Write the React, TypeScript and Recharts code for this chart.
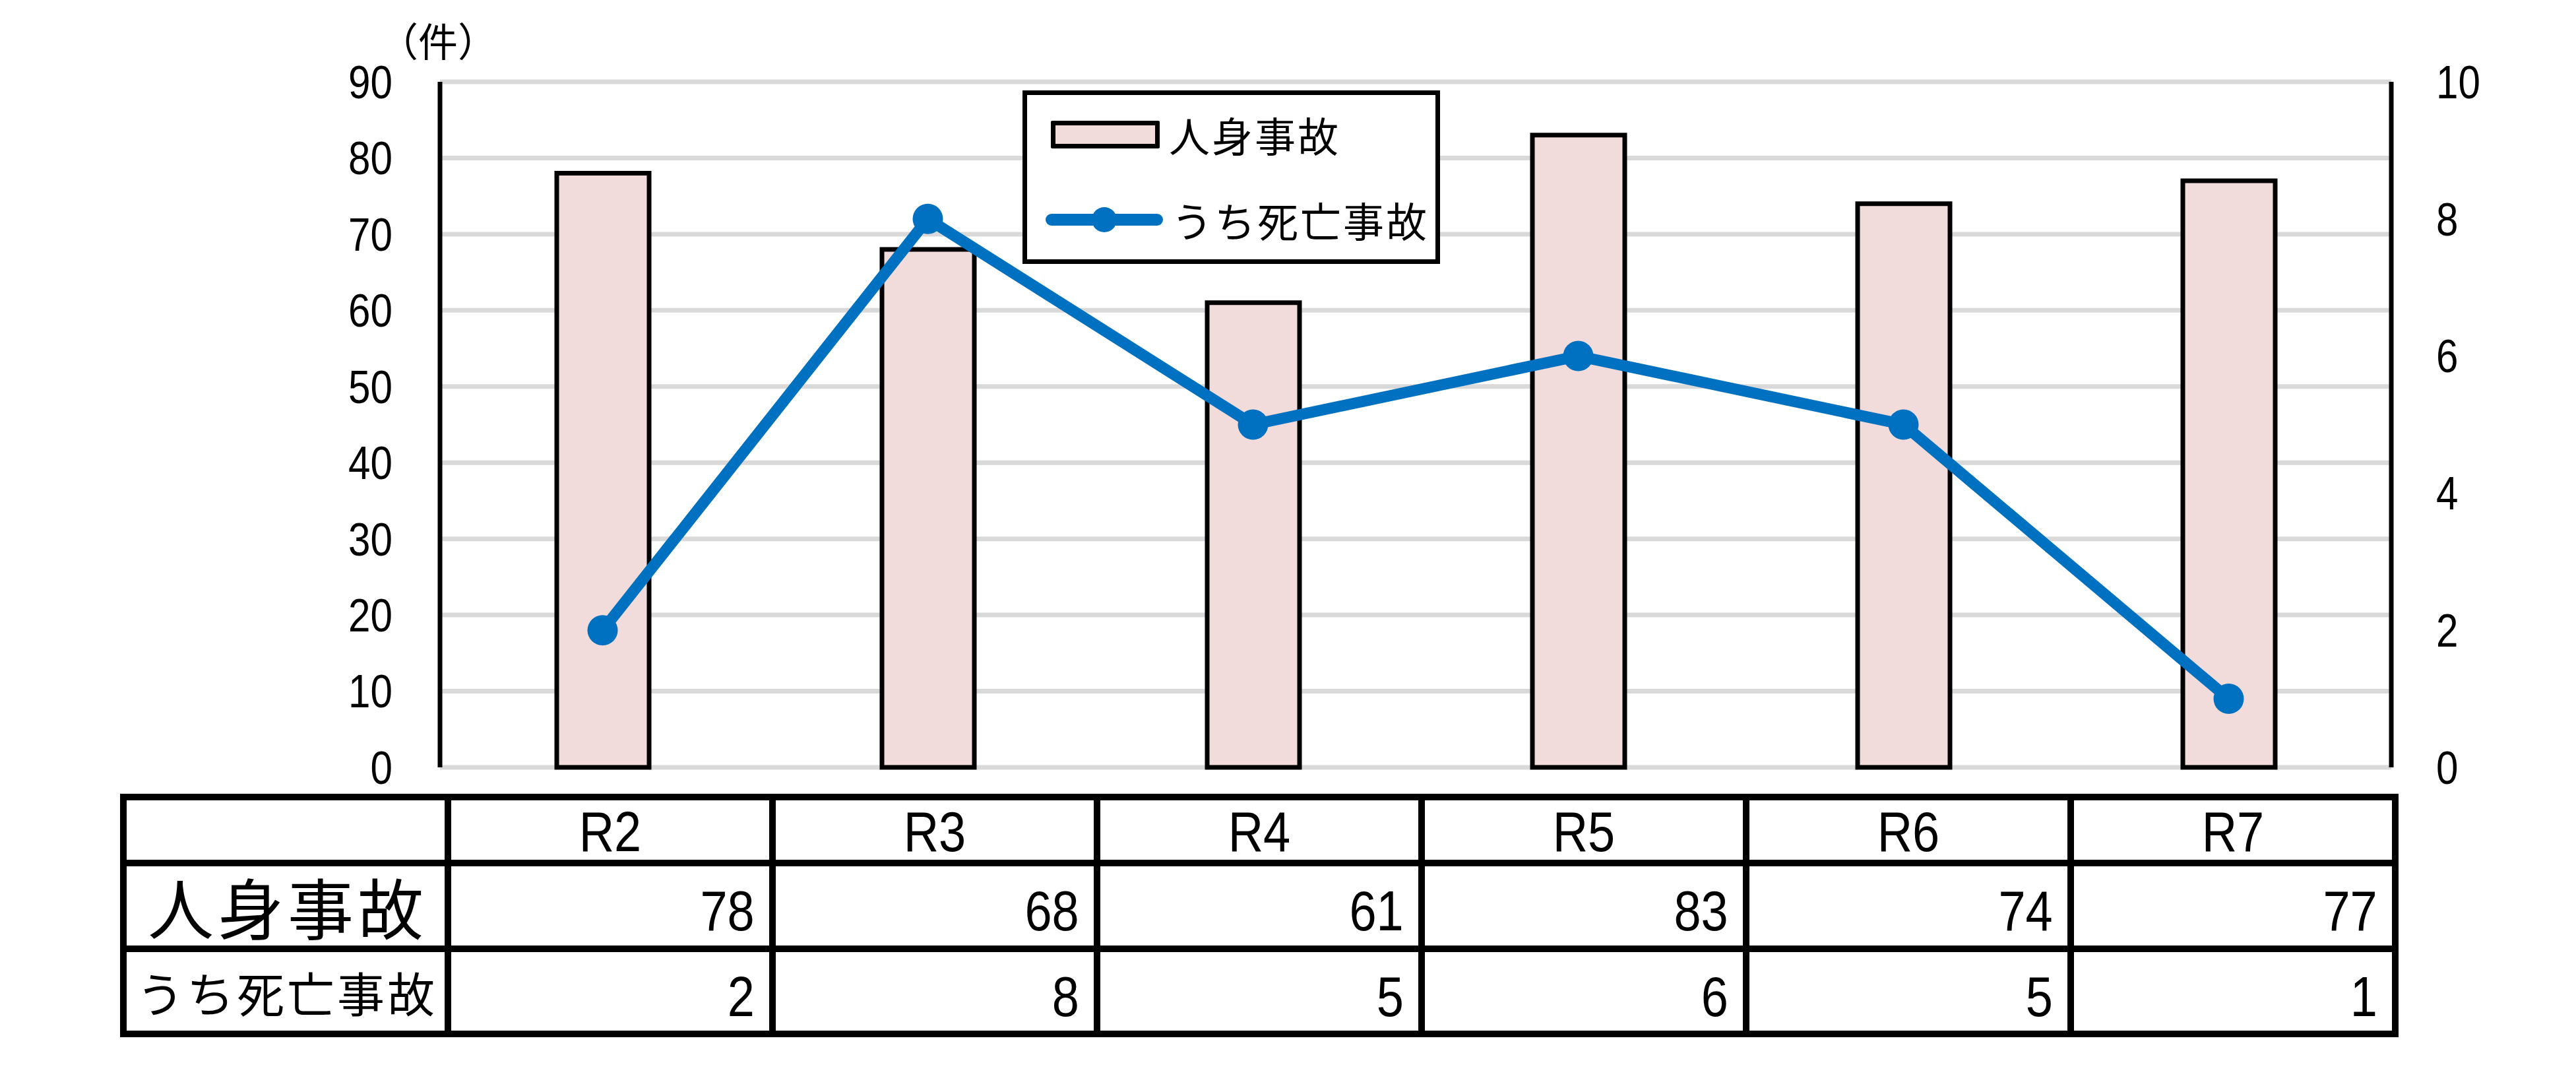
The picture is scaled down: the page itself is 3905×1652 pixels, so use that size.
import React from "react";
import {
  ComposedChart,
  Bar,
  Line,
  XAxis,
  YAxis,
  CartesianGrid,
  Legend,
} from "recharts";

// chart values
const years = ["R2", "R3", "R4", "R5", "R6", "R7"];
const injuryAccidents = [78, 68, 61, 83, 74, 77];
const fatalAccidents = [2, 8, 5, 6, 5, 1];
const leftTicks = [0, 10, 20, 30, 40, 50, 60, 70, 80, 90];
const rightTicks = [0, 2, 4, 6, 8, 10];
const injuryName = "人身事故";
const fatalName = "うち死亡事故";
const unitLabel = "（件）";

const BAR_FILL = "#f2dcdb";
const LINE_COLOR = "#0070c0";
const GRID_COLOR = "#d9d9d9";
const NUM_FONT = "'Liberation Sans', Arial, sans-serif";
const JP_FONT = "'Noto Sans CJK JP', sans-serif";
const NARROW = 0.86;

const chartData = years.map((year, i) => ({
  year,
  injury: injuryAccidents[i],
  fatal: fatalAccidents[i],
}));

// condensed numeric tick, like the narrow font of the original
const NarrowTick = ({ x, y, payload, anchor }: any) => (
  <g transform={`translate(${x},${y}) scale(${NARROW},1)`}>
    <text
      x={0}
      y={0}
      dy="0.355em"
      textAnchor={anchor}
      fontFamily={NUM_FONT}
      fontSize={70}
      fill="#000"
    >
      {payload.value}
    </text>
  </g>
);

const LegendBox = ({ payload }: any) => {
  const items = payload || [];
  return (
    <div
      style={{
        position: "relative",
        boxSizing: "border-box",
        width: 633,
        height: 263,
        border: "7px solid #000",
        background: "#fff",
        fontFamily: JP_FONT,
      }}
    >
      {items.map((entry: any) => {
        const isBar = entry.dataKey === "injury";
        return (
          <div
            key={entry.value}
            style={{
              position: "absolute",
              left: 28,
              top: (isBar ? 60 : 189) - 40,
              height: 80,
              display: "flex",
              alignItems: "center",
            }}
          >
            {isBar ? (
              <div
                style={{
                  boxSizing: "border-box",
                  width: 165,
                  height: 42,
                  marginLeft: 8,
                  marginRight: 4,
                  background: BAR_FILL,
                  border: "7px solid #000",
                  borderRadius: 2,
                }}
              />
            ) : (
              <svg width={181} height={44}>
                <line
                  x1={9}
                  x2={169}
                  y1={22}
                  y2={22}
                  stroke={LINE_COLOR}
                  strokeWidth={18}
                  strokeLinecap="round"
                />
                <circle cx={89} cy={22} r={19} fill={LINE_COLOR} />
              </svg>
            )}
            <span
              style={{
                marginLeft: 10,
                fontSize: 62,
                letterSpacing: 3,
                color: "#000",
                lineHeight: 1,
              }}
            >
              {entry.value}
            </span>
          </div>
        );
      })}
    </div>
  );
};

const cellBorder = "10px solid #000";

const Num = ({ children, origin }: any) => (
  <span
    style={{
      display: "inline-block",
      transform: `scaleX(${NARROW})`,
      transformOrigin: origin,
    }}
  >
    {children}
  </span>
);

const numCell: React.CSSProperties = {
  border: cellBorder,
  textAlign: "right",
  fontFamily: NUM_FONT,
  fontSize: 86,
  padding: "14px 22px 0 0",
  lineHeight: 1,
};

const DataTable = () => (
  <table
    style={{
      position: "absolute",
      left: 182,
      top: 1203,
      width: 3446,
      borderCollapse: "collapse",
      tableLayout: "fixed",
      color: "#000",
    }}
  >
    <colgroup>
      <col style={{ width: 492 }} />
      {years.map((y) => (
        <col key={y} style={{ width: 492 }} />
      ))}
    </colgroup>
    <tbody>
      <tr style={{ height: 97 }}>
        <td style={{ border: cellBorder }} />
        {years.map((y) => (
          <td
            key={y}
            style={{
              border: cellBorder,
              textAlign: "center",
              fontFamily: NUM_FONT,
              fontSize: 86,
              padding: "4px 0 0 0",
              lineHeight: 1,
            }}
          >
            <Num origin="center">{y}</Num>
          </td>
        ))}
      </tr>
      <tr style={{ height: 130 }}>
        <td
          style={{
            border: cellBorder,
            textAlign: "center",
            fontFamily: JP_FONT,
            fontSize: 100,
            letterSpacing: 6,
            padding: "0 0 0 6px",
            lineHeight: 1,
            whiteSpace: "nowrap",
          }}
        >
          {injuryName}
        </td>
        {injuryAccidents.map((v, i) => (
          <td key={years[i]} style={numCell}>
            <Num origin="right">{v}</Num>
          </td>
        ))}
      </tr>
      <tr style={{ height: 129 }}>
        <td
          style={{
            border: cellBorder,
            textAlign: "center",
            fontFamily: JP_FONT,
            fontSize: 72,
            letterSpacing: 4,
            padding: "0 0 0 4px",
            lineHeight: 1,
            whiteSpace: "nowrap",
          }}
        >
          {fatalName}
        </td>
        {fatalAccidents.map((v, i) => (
          <td key={years[i]} style={numCell}>
            <Num origin="right">{v}</Num>
          </td>
        ))}
      </tr>
    </tbody>
  </table>
);

const App = () => {
  return (
    <div
      style={{
        position: "absolute",
        left: 0,
        top: 0,
        width: 3905,
        height: 1652,
        background: "#fff",
      }}
    >
      <ComposedChart
        width={3905}
        height={1230}
        data={chartData}
        margin={{ top: 124, right: 0, bottom: 67, left: 0 }}
      >
        <CartesianGrid
          yAxisId="left"
          vertical={false}
          stroke={GRID_COLOR}
          strokeWidth={7}
        />
        <XAxis
          dataKey="year"
          tick={false}
          tickLine={false}
          height={0}
          axisLine={{ stroke: "#000", strokeWidth: 7 }}
        />
        <XAxis
          xAxisId="top"
          orientation="top"
          dataKey="year"
          tick={false}
          tickLine={false}
          height={0}
          axisLine={{ stroke: "#000", strokeWidth: 7 }}
        />
        <YAxis
          yAxisId="left"
          width={667}
          domain={[0, 90]}
          ticks={leftTicks}
          interval={0}
          tickSize={0}
          tickMargin={72}
          tickLine={false}
          axisLine={{ stroke: "#000", strokeWidth: 7 }}
          tick={<NarrowTick anchor="end" />}
        />
        <YAxis
          yAxisId="right"
          orientation="right"
          width={280}
          domain={[0, 10]}
          ticks={rightTicks}
          interval={0}
          tickSize={0}
          tickMargin={68}
          tickLine={false}
          axisLine={{ stroke: "#000", strokeWidth: 7 }}
          tick={<NarrowTick anchor="start" />}
        />
        <Legend
          layout="horizontal"
          verticalAlign="middle"
          align="center"
          wrapperStyle={{ left: 1550, top: 137, width: 633, height: 263 }}
          content={<LegendBox />}
        />
        <Bar
          yAxisId="left"
          dataKey="injury"
          name={injuryName}
          fill={BAR_FILL}
          stroke="#000"
          strokeWidth={7}
          barSize={140}
          isAnimationActive={false}
        />
        <Line
          yAxisId="right"
          dataKey="fatal"
          name={fatalName}
          type="linear"
          stroke={LINE_COLOR}
          strokeWidth={17}
          dot={{ r: 23, fill: LINE_COLOR, stroke: LINE_COLOR, strokeWidth: 0 }}
          activeDot={false}
          isAnimationActive={false}
        />
      </ComposedChart>
      <div
        style={{
          position: "absolute",
          left: 574,
          top: 30,
          fontFamily: JP_FONT,
          fontSize: 60,
          lineHeight: 1,
          color: "#000",
        }}
      >
        {unitLabel}
      </div>
      <DataTable />
    </div>
  );
};

export default App;
